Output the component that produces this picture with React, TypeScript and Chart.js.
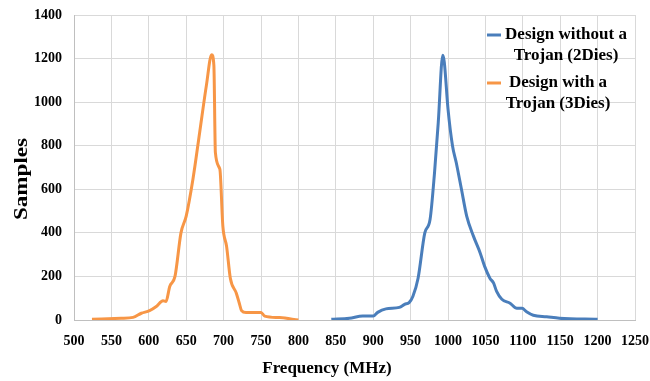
import React, { useEffect, useRef } from "react";
import { Chart, registerables } from "chart.js";
Chart.register(...registerables);

const withoutTrojanFreq = [844, 868, 886, 900, 906, 917, 935, 942, 948, 953, 960, 969, 976, 982, 987, 993, 995, 1000, 1006, 1011, 1018, 1025, 1034, 1043, 1049, 1056, 1061, 1065, 1072, 1083, 1092, 1099, 1105, 1114, 1132, 1149, 1200];
const withoutTrojanSamples = [3, 8, 18, 18, 35, 51, 58, 72, 80, 108, 192, 400, 461, 677, 908, 1215, 1185, 969, 800, 723, 600, 477, 385, 308, 246, 192, 169, 131, 95, 77, 54, 54, 38, 22, 15, 8, 3];

const withTrojanFreq = [524, 563, 579, 590, 601, 610, 619, 623, 628, 635, 643, 650, 659, 668, 677, 684, 687, 689, 695, 699, 704, 709, 717, 721, 724, 730, 750, 755, 775, 800];
const withTrojanSamples = [3, 8, 12, 31, 43, 62, 88, 85, 154, 200, 400, 477, 646, 861, 1077, 1218, 1169, 769, 692, 431, 338, 192, 123, 77, 43, 34, 35, 18, 11, 0];

const seriesLabels = [["Design without a", "Trojan (2Dies)"], ["Design with a", "Trojan (3Dies)"]];
const seriesColors = ["#4a7ebb", "#f79646"];
const xTitle = "Frequency (MHz)";
const yTitle = "Samples";

const FONT = "'Liberation Serif', 'Times New Roman', serif";

const decorPlugin = {
  id: "decor",
  afterDraw(chart: any) {
    const ctx = chart.ctx;
    ctx.save();
    // legend
    const entries = [
      { y: 35, cx: 566 },
      { y: 83, cx: 558 },
    ];
    entries.forEach((e, i) => {
      ctx.strokeStyle = seriesColors[i];
      ctx.lineWidth = 3;
      ctx.beginPath();
      ctx.moveTo(487, e.y);
      ctx.lineTo(501, e.y);
      ctx.stroke();
      ctx.fillStyle = "#000";
      ctx.font = `bold 17px ${FONT}`;
      ctx.textAlign = "center";
      ctx.textBaseline = "middle";
      ctx.fillText(seriesLabels[i][0], e.cx, e.y);
      ctx.fillText(seriesLabels[i][1], e.cx, e.y + 21);
    });
    // x title
    ctx.font = `bold 17px ${FONT}`;
    ctx.textAlign = "center";
    ctx.textBaseline = "middle";
    ctx.fillText(xTitle, 327, 369);
    // y title (stretched along its length like the original)
    ctx.font = `bold 18px ${FONT}`;
    const w = ctx.measureText(yTitle).width;
    ctx.translate(22, 179);
    ctx.rotate(-Math.PI / 2);
    ctx.scale(82 / w, 1);
    ctx.fillText(yTitle, 0, 0);
    ctx.restore();
  },
};

export default function App() {
  const ref = useRef<HTMLCanvasElement>(null);
  useEffect(() => {
    document.body.style.margin = "0";
    const toPts = (xs: number[], ys: number[]) => xs.map((x, i) => ({ x, y: ys[i] }));
    const chart = new Chart(ref.current!, {
      type: "scatter",
      data: {
        datasets: [
          {
            label: seriesLabels[0].join(" "),
            data: toPts(withoutTrojanFreq, withoutTrojanSamples),
            showLine: true,
            borderColor: seriesColors[0],
            backgroundColor: seriesColors[0],
            borderWidth: 3,
            pointRadius: 0,
            cubicInterpolationMode: "monotone",
          },
          {
            label: seriesLabels[1].join(" "),
            data: toPts(withTrojanFreq, withTrojanSamples),
            showLine: true,
            borderColor: seriesColors[1],
            backgroundColor: seriesColors[1],
            borderWidth: 3,
            pointRadius: 0,
            cubicInterpolationMode: "monotone",
          },
        ],
      },
      options: {
        animation: false,
        responsive: false,
        layout: { padding: { top: 15, right: 0, left: 0, bottom: 0 } },
        plugins: { legend: { display: false }, tooltip: { enabled: false } },
        scales: {
          x: {
            type: "linear",
            min: 500,
            max: 1250,
            ticks: {
              stepSize: 50,
              autoSkip: false,
              maxRotation: 0,
              color: "#000",
              padding: 13,
              font: { family: FONT, size: 14, weight: "bold" },
              callback: (v: any) => String(v),
            },
            grid: { color: "#d9d9d9", drawTicks: false },
            border: { color: "#bfbfbf" },
            afterFit: (s: any) => {
              s.height = 61;
              s.paddingLeft = 0;
              s.paddingRight = 15;
            },
          },
          y: {
            min: 0,
            max: 1400,
            ticks: {
              stepSize: 200,
              color: "#000",
              padding: 12,
              font: { family: FONT, size: 14, weight: "bold" },
              callback: (v: any) => String(v),
            },
            grid: { color: "#d9d9d9", drawTicks: false },
            border: { color: "#bfbfbf" },
            afterFit: (s: any) => {
              s.width = 74;
              s.paddingTop = 0;
              s.paddingBottom = 0;
            },
          },
        },
      },
      plugins: [decorPlugin],
    });
    return () => chart.destroy();
  }, []);
  return (
    <div style={{ position: "absolute", left: 0, top: 0, width: 650, height: 381, background: "#fff" }}>
      <canvas ref={ref} width={650} height={381} />
    </div>
  );
}
